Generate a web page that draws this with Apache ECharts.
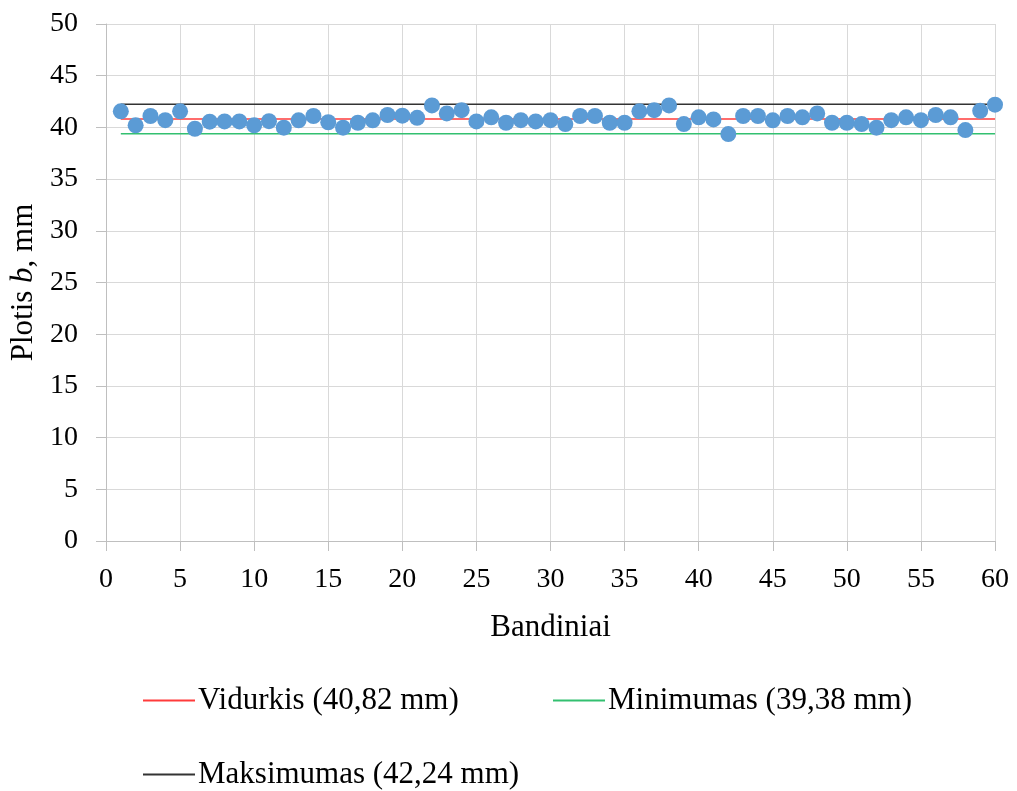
<!DOCTYPE html>
<html><head><meta charset="utf-8">
<script src="https://cdn.jsdelivr.net/npm/echarts@6/dist/echarts.min.js"></script>
<style>html,body{margin:0;padding:0;background:#fff}#c{width:1017px;height:791px}</style>
</head><body><div id="c"></div>
<script>
const sampleIdx = Array.from({length:60},(_,i)=>i+1);
const widths = [41.55,40.2,41.1,40.7,41.55,39.87,40.55,40.58,40.58,40.2,
40.6,39.97,40.68,41.1,40.5,39.97,40.45,40.68,41.2,41.13,
40.93,42.13,41.35,41.67,40.58,40.97,40.45,40.7,40.58,40.7,
40.32,41.1,41.1,40.45,40.45,41.55,41.67,42.13,40.32,40.97,
40.77,39.35,41.1,41.1,40.68,41.1,40.97,41.35,40.45,40.45,
40.32,39.97,40.7,40.97,40.7,41.2,40.97,39.74,41.6,42.2];
const meanVal = 40.82, minVal = 39.38, maxVal = 42.24;
const names = ['Vidurkis (40,82 mm)','Minimumas (39,38 mm)','Maksimumas (42,24 mm)'];
const font = 'Liberation Serif';
const chart = echarts.init(document.getElementById('c'));
const hline = (name,v,color)=>({name,type:'line',data:[[1,v],[60,v]],symbol:'none',
  lineStyle:{color,width:1.5},itemStyle:{color},z:1,animation:false});
const legendText = {fontFamily:font,fontSize:31,color:'#000',padding:[0,0,0,-2]};
const mkLegend = (n,left,top)=>({data:[n],left,top,itemWidth:52,itemHeight:2,icon:'rect',textStyle:legendText});
chart.setOption({
  animation:false,
  textStyle:{fontFamily:font},
  grid:{left:106,right:22,top:24,bottom:250},
  xAxis:{type:'value',min:0,max:60,interval:5,
    name:'Bandiniai',nameLocation:'middle',nameGap:71,
    nameTextStyle:{fontFamily:font,fontSize:31,color:'#000'},
    axisLine:{show:true,lineStyle:{color:'#bfbfbf'}},
    axisTick:{show:true,length:10,lineStyle:{color:'#bfbfbf'}},
    axisLabel:{fontFamily:font,fontSize:28,color:'#000',margin:25},
    splitLine:{show:true,lineStyle:{color:'#d9d9d9'}}},
  yAxis:{type:'value',min:0,max:50,interval:5,
    name:'{a|Plotis }{b|b}{a|, mm}',nameLocation:'middle',nameGap:61,
    nameTextStyle:{rich:{a:{fontFamily:font,fontSize:31,color:'#000'},b:{fontFamily:font,fontSize:31,fontStyle:'italic',color:'#000'}}},
    axisLine:{show:true,lineStyle:{color:'#bfbfbf'}},
    axisTick:{show:true,length:10,lineStyle:{color:'#bfbfbf'}},
    axisLabel:{fontFamily:font,fontSize:28,color:'#000',margin:28},
    splitLine:{show:true,lineStyle:{color:'#d9d9d9'}}},
  legend:[
    mkLegend(names[0],138,680),
    mkLegend(names[1],548,680),
    mkLegend(names[2],138,754)
  ],
  series:[
    hline(names[0],meanVal,'#ff3b3b'),
    hline(names[1],minVal,'#33c070'),
    hline(names[2],maxVal,'#333333'),
    {name:'data',type:'scatter',data:sampleIdx.map((x,i)=>[x,widths[i]]),symbolSize:16,
     itemStyle:{color:'#5b9bd5',opacity:1},z:5}
  ]
});
</script></body></html>
